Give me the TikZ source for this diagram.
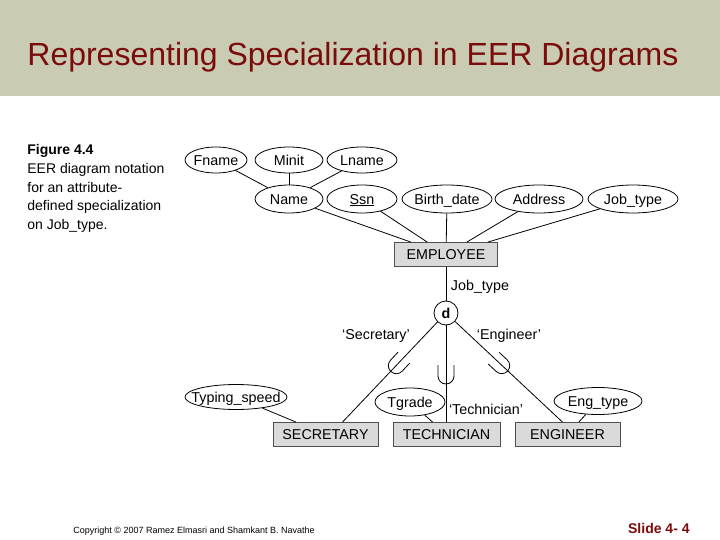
\documentclass[tikz,border=0pt]{standalone}
\usepackage{fontspec}
\setmainfont{Liberation Sans}
\usepackage{xcolor}
\usepackage{tikz}
\usetikzlibrary{shapes.geometric,calc}

\definecolor{bandgreen}{RGB}{201,203,178}
\definecolor{titlered}{RGB}{122,12,12}
\definecolor{boxgray}{RGB}{218,218,218}
\definecolor{boxedge}{RGB}{80,80,80}

\newcommand{\diagfont}{\fontsize{14.3bp}{17bp}\selectfont}

\begin{document}
\begin{tikzpicture}[x=1bp, y=-1bp, line width=0.8bp,
  every node/.style={font=\diagfont, inner sep=0pt},
  attr/.style={ellipse, draw, fill=white, inner xsep=-9bp, text height=10.2bp, text depth=0bp,
    minimum width=68bp, minimum height=28bp},
  entity/.style={draw=boxedge, fill=boxgray, text height=10.2bp, text depth=0bp,
    minimum width=105bp, minimum height=24bp},
  subsetmark/.pic={\draw (-8,-10) -- (-8,1) arc[start angle=180, end angle=0, radius=8] -- (8,-10);}]
  % page and title band
  \fill[white] (0,0) rectangle (720,540);
  \useasboundingbox (0,0) rectangle (720,540);
  \fill[bandgreen] (0,0) rectangle (720,96);
  \node[anchor=west, text=titlered, font=\fontsize{32bp}{36bp}\selectfont] (title) at (27,57)
    {Representing Specialization in EER Diagrams};

  % caption
  \node[anchor=north west, align=left, font=\fontsize{14bp}{18.8bp}\selectfont] (caption) at (27,144)
    {\textbf{Figure 4.4}\\EER diagram notation\\for an attribute-\\defined specialization\\on Job\_type.};

  % attributes of EMPLOYEE
  \node[attr, minimum width=62bp, minimum height=26bp] (fname) at (216,160) {Fname};
  \node[attr, minimum height=26bp] (minit) at (289,160) {Minit};
  \node[attr, minimum width=70bp, minimum height=26bp] (lname) at (362,160) {Lname};
  \node[attr] (name) at (289,199) {Name};
  \node[attr, minimum width=70bp] (ssn) at (362,199) {\underline{Ssn}};
  \node[attr, minimum width=90bp] (bdate) at (447,199) {Birth\_date};
  \node[attr, minimum width=88bp] (address) at (539,199) {Address};
  \node[attr, minimum width=90bp] (jobtype) at (633,199) {Job\_type};

  \node[entity, minimum width=103bp] (emp) at (446,254.5) {EMPLOYEE};

  % specialization circle and labels
  \node[circle, draw, fill=white, minimum size=24bp, font=\diagfont\bfseries] (d) at (446,313) {d};
  \node (jtlabel) at (480,287) {Job\_type};
  \node (seclabel) at (376,336) {`Secretary'};
  \node (englabel) at (509,336) {`Engineer'};
  \node (techlabel) at (486,409) {`Technician'};

  % subclasses
  \node[attr, minimum width=102bp, minimum height=25bp] (typing) at (236,397) {Typing\_speed};
  \node[attr, minimum width=70bp] (tgrade) at (410,402) {Tgrade};
  \node[attr, minimum width=88bp, minimum height=27bp] (engtype) at (598,401) {Eng\_type};
  \node[entity] (sec) at (325.5,434.5) {SECRETARY};
  \node[entity, minimum width=107bp] (tech) at (446.5,434.5) {TECHNICIAN};
  \node[entity] (eng) at (567.5,434.5) {ENGINEER};

  \draw (fname) -- (name);
  \draw (minit) -- (name);
  \draw (lname) -- (name);
  \foreach \a in {name,ssn,bdate,address,jobtype}
    \draw (\a) -- (emp);
  \draw (emp) -- (d);
  \draw (d) -- ([xshift=17bp]sec.north);
  \draw (d) -- (d |- tech.north);
  \draw (d) -- ([xshift=-5bp]eng.north);
  \draw (typing) -- (sec);
  \draw (tgrade) -- (tech);
  \draw (engtype) -- (eng);

  \pic[rotate=-43] at (397,365) {subsetmark};
  \pic at (446,375) {subsetmark};
  \pic[rotate=47] at (501,365) {subsetmark};

  % footer
  \node[anchor=west, font=\fontsize{9bp}{11bp}\selectfont] (copy) at (73,531)
    {Copyright © 2007 Ramez Elmasri and Shamkant B. Navathe};
  \node[anchor=east, text=titlered, font=\fontsize{14bp}{17bp}\selectfont\bfseries] (slide) at (690,528)
    {Slide 4- 4};
\end{tikzpicture}
\end{document}
